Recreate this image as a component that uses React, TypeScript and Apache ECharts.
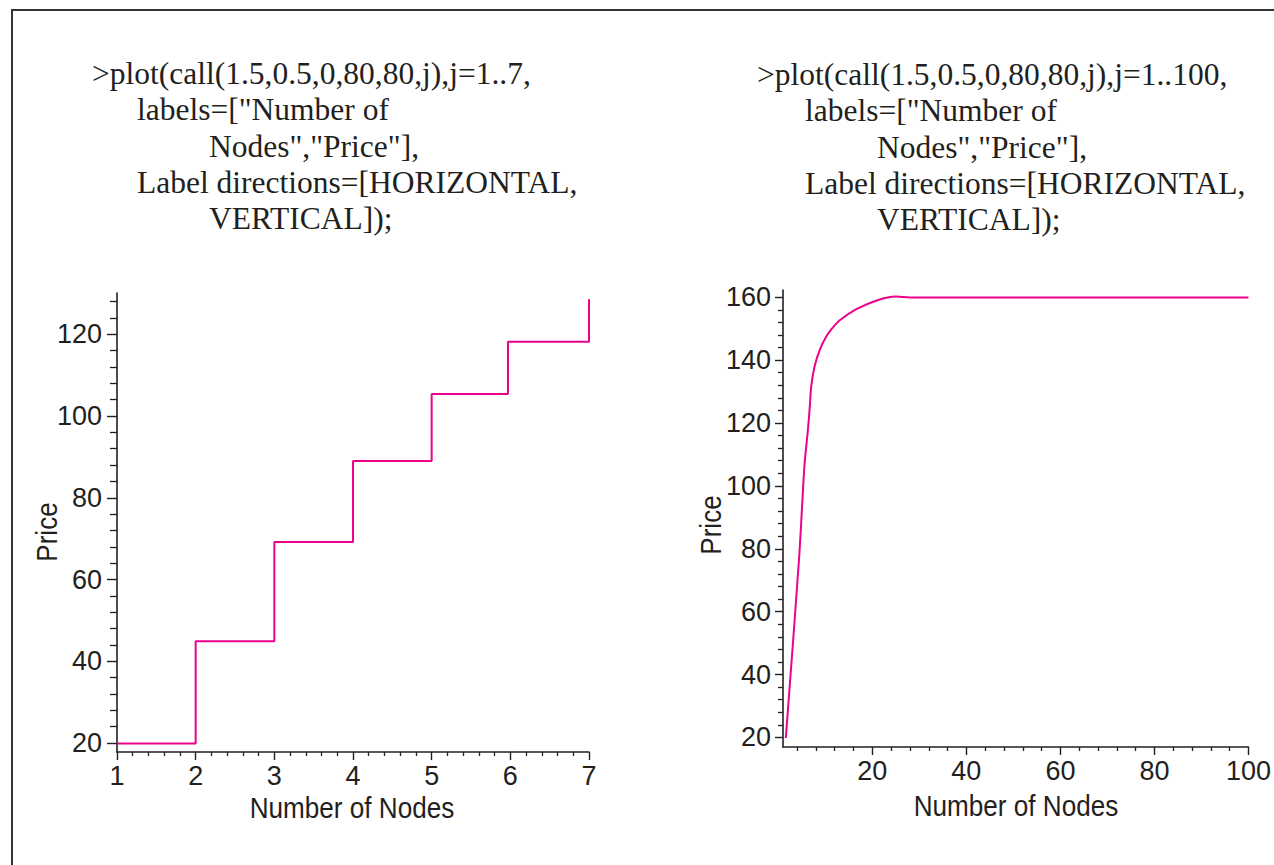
import React, { useEffect, useRef } from "react";
import * as echarts from "echarts";

// ---- texts ----
const leftTitle = [
  ">plot(call(1.5,0.5,0,80,80,j),j=1..7,",
  'labels=["Number of',
  'Nodes","Price"],',
  "Label directions=[HORIZONTAL,",
  "VERTICAL]);",
];
const rightTitle = [
  ">plot(call(1.5,0.5,0,80,80,j),j=1..100,",
  'labels=["Number of',
  'Nodes","Price"],',
  "Label directions=[HORIZONTAL,",
  "VERTICAL]);",
];
const xName = "Number of Nodes";
const yName = "Price";

// ---- data ----
const leftNodes = [1, 2, 3, 4, 5, 5.97, 7];
const leftPrices = [19.85, 44.9, 69.2, 89.0, 105.4, 118.2, 128.6];

const rightNodes = [1.6, 4.4, 5.25, 5.6, 6.3, 6.7, 7.0, 7.7, 8.8, 10.2, 11.4, 13, 16.6, 20.8, 25, 28, 100];
const rightPrices = [19.8, 76.5, 98.7, 107.2, 117.8, 125.2, 131.6, 137.9, 143.2, 147.5, 150.0, 152.6, 156.2, 158.9, 160.2, 159.9, 159.9];

// ---- tick labels ----
const leftXTicks = [1, 2, 3, 4, 5, 6, 7];
const leftYTicks = [20, 40, 60, 80, 100, 120];
const rightXTicks = [20, 40, 60, 80, 100];
const rightYTicks = [20, 40, 60, 80, 100, 120, 140, 160];

function minors(from: number, to: number, step: number, majors: number[]) {
  const out: number[] = [];
  const n = Math.round((to - from) / step);
  for (let i = 0; i <= n; i++) {
    const v = Math.round((from + i * step) * 1000) / 1000;
    if (!majors.some((m) => Math.abs(m - v) < 1e-6)) out.push(v);
  }
  return out;
}

const INK = "#231F20";
const PINK = "#EC008C";
const LABEL_FONT = '"Liberation Sans", Arial, sans-serif';
const SERIF = '"Liberation Serif", "Times New Roman", serif';

export default function App() {
  const ref = useRef<HTMLDivElement>(null);
  useEffect(() => {
    if (!ref.current) return;
    const chart = echarts.init(ref.current, null, { renderer: "svg" });

    const grids = [
      { left: 117, top: 293, width: 472, height: 459 },
      { left: 783, top: 290, width: 466, height: 457 },
    ];
    const lim = [
      { xmin: 1, xmax: 7, ymin: 17.8, ymax: 130.1 },
      { xmin: 1, xmax: 100, ymin: 16.95, ymax: 162.3 },
    ];
    const xMaj = [leftXTicks, rightXTicks];
    const yMaj = [leftYTicks, rightYTicks];
    const xMin = [minors(1, 7, 0.2, leftXTicks), minors(4, 100, 4, rightXTicks)];
    const yMin = [minors(20, 128, 4, leftYTicks), minors(20, 160, 4, rightYTicks)];
    const yMajLen = [10, 8];
    const yMinLen = [7, 5];
    const yLabMargin = [15, 12];

    const xAxes: any[] = [];
    const yAxes: any[] = [];
    for (let g = 0; g < 2; g++) {
      xAxes.push({
        gridIndex: g, type: "value", position: "bottom", min: lim[g].xmin, max: lim[g].xmax,
        axisLine: { show: true, lineStyle: { color: INK, width: 1.6 } },
        axisTick: { show: true, customValues: xMaj[g], length: 8, lineStyle: { color: INK, width: 1.4 } },
        axisLabel: { show: true, customValues: xMaj[g], margin: 10, fontFamily: LABEL_FONT, fontSize: 27, color: INK },
        splitLine: { show: false },
      });
      xAxes.push({
        gridIndex: g, type: "value", position: "bottom", min: lim[g].xmin, max: lim[g].xmax,
        axisLine: { show: false },
        axisTick: { show: true, customValues: xMin[g], length: 4, lineStyle: { color: INK, width: 1.3 } },
        axisLabel: { show: false },
        splitLine: { show: false },
      });
      yAxes.push({
        gridIndex: g, type: "value", position: "left", min: lim[g].ymin, max: lim[g].ymax,
        axisLine: { show: true, lineStyle: { color: INK, width: 1.6 } },
        axisTick: { show: true, customValues: yMaj[g], length: yMajLen[g], lineStyle: { color: INK, width: 1.4 } },
        axisLabel: { show: true, customValues: yMaj[g], margin: yLabMargin[g], fontFamily: LABEL_FONT, fontSize: 27, color: INK },
        splitLine: { show: false },
      });
      yAxes.push({
        gridIndex: g, type: "value", position: "left", min: lim[g].ymin, max: lim[g].ymax,
        axisLine: { show: false },
        axisTick: { show: true, customValues: yMin[g], length: yMinLen[g], lineStyle: { color: INK, width: 1.3 } },
        axisLabel: { show: false },
        splitLine: { show: false },
      });
    }

    const titleX = [
      [92, 137, 209, 137, 209],
      [757, 805, 877, 805, 877],
    ];
    const titleY = [
      [73, 109, 146, 182, 218],
      [74, 110, 147, 183, 219],
    ];
    const graphics: any[] = [
      { type: "rect", shape: { x: 12, y: 10, width: 1300, height: 900 }, style: { fill: "none", stroke: "#333", lineWidth: 2 } },
    ];
    [leftTitle, rightTitle].forEach((lines, g) => {
      lines.forEach((t, i) => {
        graphics.push({
          type: "text", x: titleX[g][i], y: titleY[g][i],
          style: { text: t, fontFamily: SERIF, fontSize: 31.5, fill: INK, align: "left", verticalAlign: "middle" },
        });
      });
    });
    const nameX = [[352, 808], [1016, 806]];
    const priceP = [[47, 532], [711, 525]];
    for (let g = 0; g < 2; g++) {
      graphics.push({
        type: "text", x: nameX[g][0], y: nameX[g][1], scaleX: 0.87,
        style: { text: xName, fontFamily: LABEL_FONT, fontSize: 30, fill: INK, align: "center", verticalAlign: "middle" },
      });
      graphics.push({
        type: "text", x: priceP[g][0], y: priceP[g][1], rotation: Math.PI / 2, scaleX: 0.87,
        style: { text: yName, fontFamily: LABEL_FONT, fontSize: 30, fill: INK, align: "center", verticalAlign: "middle" },
      });
    }

    chart.setOption({
      animation: false,
      backgroundColor: "#fff",
      grid: grids,
      xAxis: xAxes,
      yAxis: yAxes,
      graphic: graphics,
      series: [
        {
          type: "line", xAxisIndex: 0, yAxisIndex: 0, step: "end", showSymbol: false,
          data: leftNodes.map((x, i) => [x, leftPrices[i]]),
          lineStyle: { color: PINK, width: 2 }, itemStyle: { color: PINK },
        },
        {
          type: "line", xAxisIndex: 2, yAxisIndex: 2, showSymbol: false, smooth: 0.3,
          data: rightNodes.map((x, i) => [x, rightPrices[i]]),
          lineStyle: { color: PINK, width: 2 }, itemStyle: { color: PINK },
        },
      ],
    });
    return () => chart.dispose();
  }, []);
  return <div ref={ref} style={{ position: "absolute", left: 0, top: 0, width: 1274, height: 865 }} />;
}
